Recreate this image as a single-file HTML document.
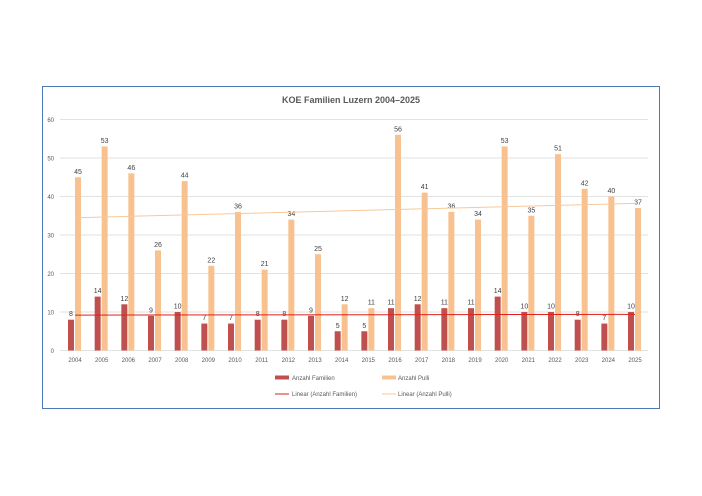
<!DOCTYPE html>
<html><head><style>body{margin:0;background:#fff}svg{display:block;font-family:"Liberation Sans",sans-serif}</style></head><body>
<svg width="702" height="496" xmlns="http://www.w3.org/2000/svg">
<rect x="42.5" y="86.5" width="617" height="322" fill="#fff" stroke="#4a7ab8" stroke-width="1"/>
<text x="351" y="103" text-anchor="middle" font-size="9" font-weight="bold" fill="#595959">KOE Familien Luzern 2004–2025</text>
<g stroke="#d9d9d9" stroke-width="0.8">
<line x1="60" x2="648" y1="119.5" y2="119.5"/><line x1="60" x2="648" y1="158" y2="158"/><line x1="60" x2="648" y1="196.5" y2="196.5"/><line x1="60" x2="648" y1="235" y2="235"/><line x1="60" x2="648" y1="273.5" y2="273.5"/><line x1="60" x2="648" y1="312" y2="312"/><line x1="60" x2="648" y1="350.5" y2="350.5"/></g>
<g font-size="6" fill="#595959" text-anchor="end">
<text x="54" y="122">60</text><text x="54" y="160.5">50</text><text x="54" y="199">40</text><text x="54" y="237.5">30</text><text x="54" y="276">20</text><text x="54" y="314.5">10</text><text x="54" y="353">0</text></g>
<g id="bars"></g>
<line x1="75" y1="315.1" x2="635" y2="314.4" stroke="#e0201b" stroke-width="1"/>
<line x1="75" y1="217.7" x2="635" y2="203.4" stroke="#f8c89a" stroke-width="1"/>
<rect x="275" y="375.5" width="14" height="4" fill="#c0504d"/>
<text x="292" y="380" font-size="6" fill="#595959">Anzahl Familien</text>
<rect x="382" y="375.5" width="14" height="4" fill="#f8c190"/>
<text x="398" y="380" font-size="6" fill="#595959">Anzahl Pulli</text>
<line x1="275" x2="289" y1="394" y2="394" stroke="#e0201b"/>
<text x="292" y="396" font-size="6" fill="#595959">Linear (Anzahl Familien)</text>
<line x1="382" x2="396" y1="394" y2="394" stroke="#f8c89a"/>
<text x="398" y="396" font-size="6" fill="#595959">Linear (Anzahl Pulli)</text>
<g id="g"></g>
</svg>
<script>
var f=[8,14,12,9,10,7,7,8,8,9,5,5,11,12,11,11,14,10,10,8,7,10],p=[45,53,46,26,44,22,36,21,34,25,12,11,56,41,36,34,53,35,51,42,40,37];
var s='',ns='http://www.w3.org/2000/svg';
for(var i=0;i<22;i++){var c=75+i*26.667,k=3.85;
s+='<rect x="'+(c-7)+'" y="'+(350.5-f[i]*k)+'" width="6" height="'+f[i]*k+'" fill="#c0504d"/>';
s+='<rect x="'+c+'" y="'+(350.5-p[i]*k)+'" width="6" height="'+p[i]*k+'" fill="#f8c190"/>';
s+='<text x="'+(c-4)+'" y="'+(347-f[i]*k)+'" font-size="7" fill="#404040" text-anchor="middle">'+f[i]+'</text>';
s+='<text x="'+(c+3)+'" y="'+(347-p[i]*k)+'" font-size="7" fill="#404040" text-anchor="middle">'+p[i]+'</text>';
s+='<text x="'+c+'" y="362" font-size="6" fill="#595959" text-anchor="middle">'+(2004+i)+'</text>';}
document.getElementById('bars').innerHTML=s;
</script>
</body></html>
